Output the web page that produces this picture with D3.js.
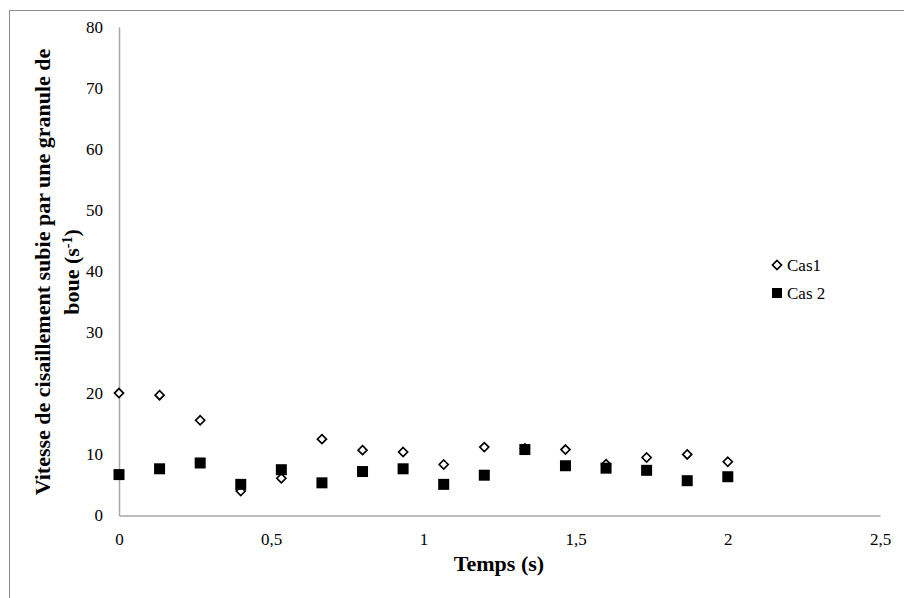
<!DOCTYPE html>
<html><head><meta charset="utf-8">
<script src="https://cdn.jsdelivr.net/npm/d3@7"></script>
<style>body{margin:0;background:#fff}svg{display:block}svg text{font-family:"Liberation Serif","Times New Roman",serif !important}</style>
</head><body><svg id="c" width="904" height="598"></svg>
<script>
const times = [0, 0.1333, 0.2667, 0.4, 0.5333, 0.6667, 0.8, 0.9333, 1.0667, 1.2, 1.3333, 1.4667, 1.6, 1.7333, 1.8667, 2.0];
const cas1 = [20.05, 19.7, 15.6, 4.0, 6.1, 12.5, 10.7, 10.4, 8.35, 11.2, 11.0, 10.8, 8.4, 9.5, 10.0, 8.8];
const cas2 = [6.7, 7.65, 8.6, 5.1, 7.5, 5.35, 7.2, 7.65, 5.1, 6.6, 10.8, 8.15, 7.75, 7.4, 5.7, 6.35];
const xTicks = [0, 0.5, 1, 1.5, 2, 2.5];
const yTicks = [0, 10, 20, 30, 40, 50, 60, 70, 80];
const seriesNames = ["Cas1", "Cas 2"];

const svg = d3.select("#c");
const x = d3.scaleLinear().domain([0, 2.5]).range([119, 880]);
const y = d3.scaleLinear().domain([0, 80]).range([515.5, 27]);
const fmt = d => String(d).replace(".", ",");
const SERIF = "'Liberation Serif', 'Times New Roman', serif";

// outer frame
svg.append("path").attr("d", "M9.5,598 V10.5 H904").attr("fill", "none").attr("stroke", "#8c8c8c").attr("stroke-width", 1);

// axes
const xa = svg.append("g").attr("transform", `translate(0,${y(0)})`)
  .call(d3.axisBottom(x).tickValues(xTicks).tickFormat(fmt).tickSize(0).tickPadding(17));
const ya = svg.append("g").attr("transform", `translate(${x(0)},0)`)
  .call(d3.axisLeft(y).tickValues(yTicks).tickSize(0).tickPadding(16));
[xa, ya].forEach(a => {
  a.attr("font-family", SERIF).attr("font-size", 17);
  a.select(".domain").attr("stroke", "#a6a6a6").attr("stroke-width", 1.5);
  a.selectAll("text").style("font-family", SERIF).style("font-size", "17px").attr("fill", "#000");
});

// diamonds (Cas1)
const diamond = (cx, cy, r) => `M${cx},${cy - r}L${cx + r},${cy}L${cx},${cy + r}L${cx - r},${cy}Z`;
svg.append("g").selectAll("path").data(times.map((t, i) => [t, cas1[i]])).join("path")
  .attr("d", d => diamond(x(d[0]), y(d[1]), 4.5))
  .attr("fill", "#fff").attr("stroke", "#000").attr("stroke-width", 1.7);
// squares (Cas2)
svg.append("g").selectAll("rect").data(times.map((t, i) => [t, cas2[i]])).join("rect")
  .attr("x", d => x(d[0]) - 5.5).attr("y", d => y(d[1]) - 5.5)
  .attr("width", 11).attr("height", 11).attr("fill", "#000");

// legend
const lg = svg.append("g").style("font-family", SERIF);
lg.append("path").attr("d", diamond(777, 265, 4.5)).attr("fill", "#fff").attr("stroke", "#000").attr("stroke-width", 1.7);
lg.append("rect").attr("x", 772).attr("y", 288).attr("width", 10).attr("height", 10).attr("fill", "#000");
lg.append("text").attr("x", 787).attr("y", 271).style("font-size", "17px").text(seriesNames[0]);
lg.append("text").attr("x", 787).attr("y", 299).style("font-size", "17px").text(seriesNames[1]);

// axis titles
svg.append("text").attr("x", 499).attr("y", 571).attr("text-anchor", "middle")
  .style("font-family", SERIF).style("font-size", "22px").attr("font-weight", "bold").text("Temps (s)");
const yt = svg.append("text").attr("transform", "translate(0,272) rotate(-90)")
  .attr("text-anchor", "middle").style("font-family", SERIF).style("font-size", "22px").attr("font-weight", "bold");
yt.append("tspan").attr("x", 0).attr("y", 50).text("Vitesse de cisaillement subie par une granule de");
const t2 = yt.append("tspan").attr("x", 0).attr("y", 79).text("boue (s");
t2.append("tspan").attr("baseline-shift", "super").style("font-size", "14px").text("-1");
yt.append("tspan").text(")");
</script></body></html>
